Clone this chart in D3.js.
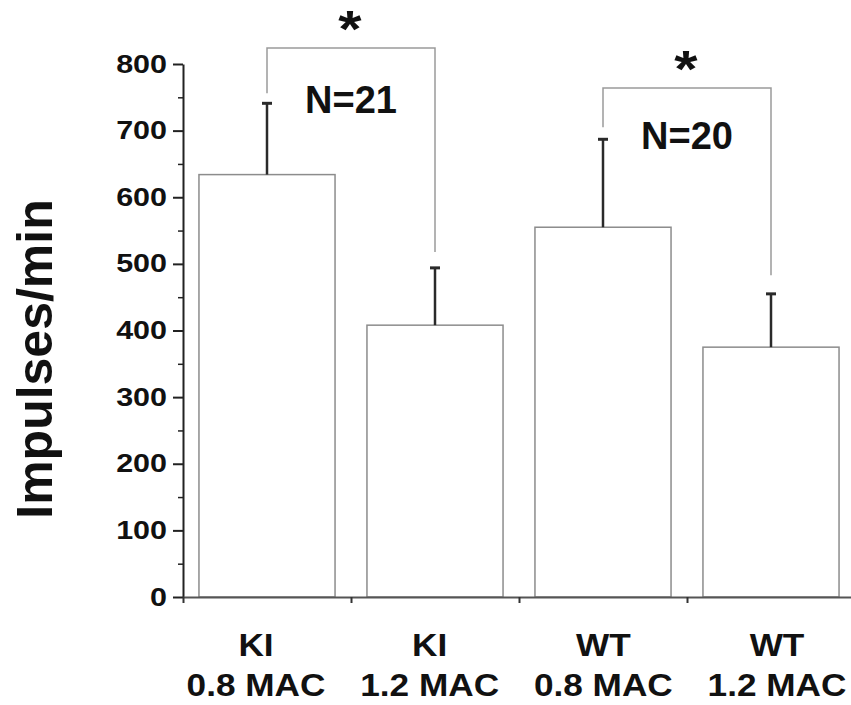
<!DOCTYPE html>
<html>
<head>
<meta charset="utf-8">
<script src="https://cdn.jsdelivr.net/npm/d3@7"></script>
<style>
  body { margin: 0; background: #fff; }
  text { font-family: "Liberation Sans", Arial, sans-serif; font-weight: bold; fill: #111; }
</style>
</head>
<body>
<svg id="chart" width="851" height="705"></svg>
<script>
// data
var groups = ["KI", "KI", "WT", "WT"];
var doses = ["0.8 MAC", "1.2 MAC", "0.8 MAC", "1.2 MAC"];
var means = [634, 408, 555, 375];
var sems = [107, 86, 132, 80];
var yTicks = [0, 100, 200, 300, 400, 500, 600, 700, 800];
var yMinorTicks = [50, 150, 250, 350, 450, 550, 650, 750];
// significance brackets: bars joined, left end, right end, top (all in y units)
var bracketFrom = [0, 2];
var bracketTo = [1, 3];
var bracketLeft = [756, 705];
var bracketRight = [518, 483];
var bracketTop = [824, 764];
var nLabels = ["N=21", "N=20"];
var nLabelY = [727, 673];

var svg = d3.select("#chart");
var idx = d3.range(means.length);

var x = d3.scaleBand()
  .domain(idx)
  .range([183, 855])
  .paddingInner(0.19)
  .paddingOuter(0.095);

// the category labels sit on a slightly narrower pitch than the bars
var xLab = d3.scalePoint()
  .domain(idx)
  .range([256, 777]);

var y = d3.scaleLinear()
  .domain([0, 800])
  .range([597, 64]);

var xEdge = d3.scaleLinear().domain([0, 4]).range([183, 855]);

function cx(i) { return x(i) + x.bandwidth() / 2; }

/* bars */
svg.append("g").selectAll("rect")
  .data(idx)
  .enter().append("rect")
  .attr("x", function(i) { return x(i); })
  .attr("y", function(i) { return y(means[i]); })
  .attr("width", x.bandwidth())
  .attr("height", function(i) { return y(0) - y(means[i]); })
  .style("fill", "#fff")
  .style("stroke", "#8c8c8c")
  .style("stroke-width", 1.5);

/* error bars */
var err = svg.append("g").style("stroke", "#2a2a2a");
err.selectAll("line.stem")
  .data(idx)
  .enter().append("line")
  .attr("class", "stem")
  .attr("x1", cx).attr("x2", cx)
  .attr("y1", function(i) { return y(means[i]); })
  .attr("y2", function(i) { return y(means[i] + sems[i]); })
  .style("stroke-width", 2.5);
err.selectAll("line.cap")
  .data(idx)
  .enter().append("line")
  .attr("class", "cap")
  .attr("x1", function(i) { return cx(i) - 5; })
  .attr("x2", function(i) { return cx(i) + 5; })
  .attr("y1", function(i) { return y(means[i] + sems[i]); })
  .attr("y2", function(i) { return y(means[i] + sems[i]); })
  .style("stroke-width", 3);

/* brackets */
var br = svg.append("g");
br.selectAll("path")
  .data(d3.range(bracketFrom.length))
  .enter().append("path")
  .attr("d", function(k) {
    var a = cx(bracketFrom[k]), b = cx(bracketTo[k]);
    return "M" + a + "," + y(bracketLeft[k]) +
      "V" + y(bracketTop[k]) + "H" + b + "V" + y(bracketRight[k]);
  })
  .style("fill", "none")
  .style("stroke", "#9a9a9a")
  .style("stroke-width", 1.5);

br.selectAll("text.star")
  .data(d3.range(bracketFrom.length))
  .enter().append("text")
  .attr("class", "star")
  .attr("transform", function(k) {
    var mx = (cx(bracketFrom[k]) + cx(bracketTo[k])) / 2 - 1;
    return "translate(" + mx + "," + (y(bracketTop[k]) - 1) + ") scale(1.15,1)";
  })
  .attr("text-anchor", "middle")
  .style("font-size", "52px")
  .text("*");

br.selectAll("text.n")
  .data(d3.range(nLabels.length))
  .enter().append("text")
  .attr("class", "n")
  .attr("x", function(k) { return (cx(bracketFrom[k]) + cx(bracketTo[k])) / 2; })
  .attr("y", function(k) { return y(nLabelY[k]); })
  .attr("text-anchor", "middle")
  .style("font-size", "38px")
  .text(function(k) { return nLabels[k]; });

/* y axis */
var yAxis = svg.append("g")
  .attr("transform", "translate(183,0)")
  .call(d3.axisLeft(y).tickValues(yTicks).tickSize(10).tickSizeOuter(0));
yAxis.select(".domain").style("stroke", "#222").style("stroke-width", 2);
yAxis.selectAll(".tick line").style("stroke", "#222").style("stroke-width", 2);
yAxis.selectAll(".tick text")
  .attr("x", -16 / 1.22)
  .attr("transform", "scale(1.22,1)")
  .style("font-size", "25px")
  .style("fill", "#111")
  .style("font-family", "'Liberation Sans', Arial, sans-serif")
  .style("font-weight", "bold");

var yMinor = svg.append("g")
  .attr("transform", "translate(183,0)")
  .call(d3.axisLeft(y).tickValues(yMinorTicks).tickSize(5).tickFormat(""));
yMinor.select(".domain").remove();
yMinor.selectAll(".tick line").style("stroke", "#222").style("stroke-width", 1.5);

/* x axis */
var xAxis = svg.append("g")
  .attr("transform", "translate(0," + y(0) + ")")
  .call(d3.axisBottom(xEdge).tickValues([0, 1, 2, 3]).tickSize(6).tickSizeOuter(0).tickFormat(""));
xAxis.select(".domain").style("stroke", "#555").style("stroke-width", 2);
xAxis.selectAll(".tick line").style("stroke", "#333").style("stroke-width", 2);

/* category labels */
var lab = svg.append("g");
lab.selectAll("text.grp")
  .data(idx)
  .enter().append("text")
  .attr("class", "grp")
  .attr("transform", function(i) { return "translate(" + xLab(i) + ",656) scale(1.1,1)"; })
  .attr("text-anchor", "middle")
  .style("font-size", "32px")
  .text(function(i) { return groups[i]; });
lab.selectAll("text.dose")
  .data(idx)
  .enter().append("text")
  .attr("class", "dose")
  .attr("transform", function(i) { return "translate(" + xLab(i) + ",696) scale(1.1,1)"; })
  .attr("text-anchor", "middle")
  .style("font-size", "32px")
  .text(function(i) { return doses[i]; });

/* y title */
svg.append("text")
  .attr("transform", "translate(52,359) rotate(-90)")
  .attr("text-anchor", "middle")
  .style("font-size", "50px")
  .text("Impulses/min");
</script>
</body>
</html>
